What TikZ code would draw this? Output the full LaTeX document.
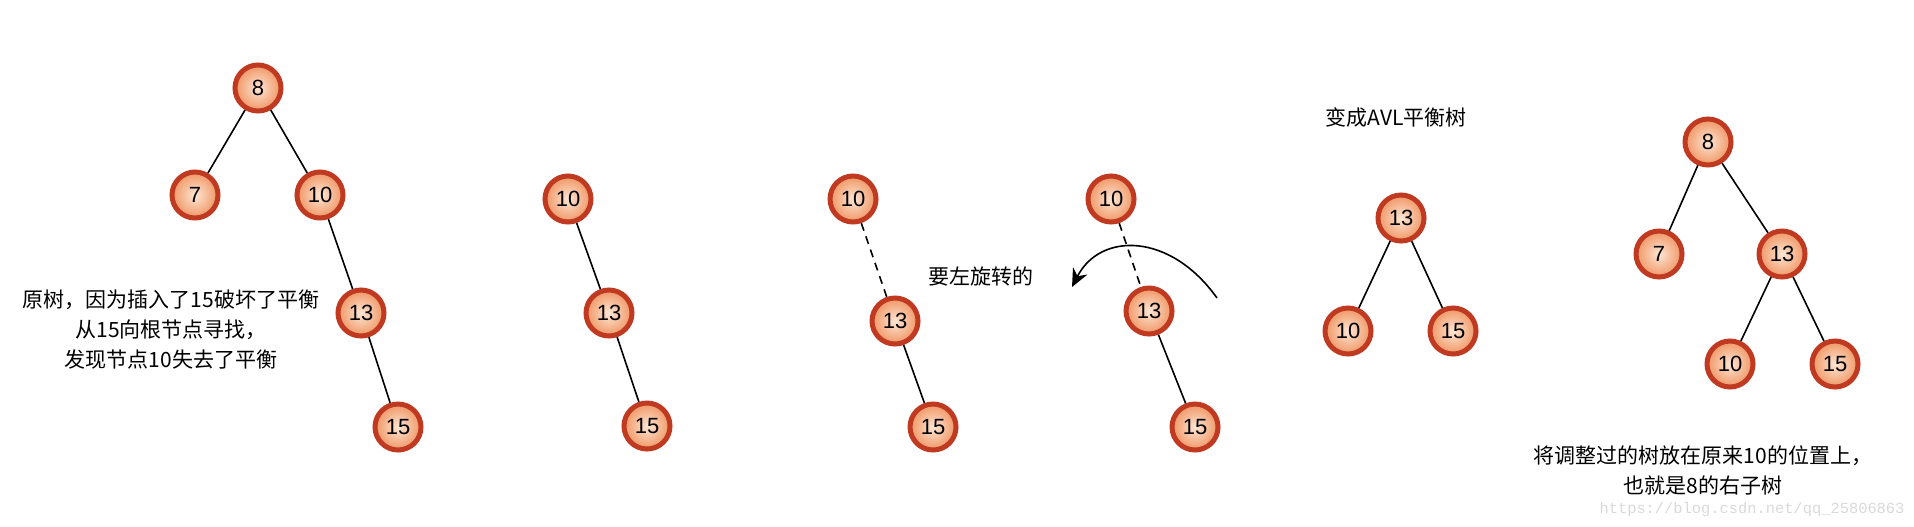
\documentclass[tikz,border=0pt]{standalone}
\usepackage{fontspec}
\setmainfont{Liberation Sans}
\newfontfamily\cjk{Noto Sans CJK SC}
\newfontfamily\marca{Liberation Mono}
\usetikzlibrary{arrows.meta, shadows}
\definecolor{bordavl}{RGB}{192,58,34}
\definecolor{miolo}{RGB}{253,230,212}
\definecolor{casca}{RGB}{240,150,100}
\tikzset{
    bola/.style={circle, draw=bordavl, line width=2.5pt, inner color=miolo, outer color=casca,
        minimum size=23pt, inner sep=0pt, font=\fontsize{11pt}{12pt}\selectfont,
        drop shadow={opacity=0.25, shadow xshift=0.6pt, shadow yshift=-0.6pt}},
    elo/.style={draw=black, line width=0.8pt},
    tracejado/.style={elo, dash pattern=on 4pt off 3pt},
    legenda/.style={font=\cjk\fontsize{10.5pt}{15pt}\selectfont, align=center}
}
\begin{document}
\begin{tikzpicture}[x=0.5pt, y=-0.5pt]
    \useasboundingbox (0,0) rectangle (1914,526);
    % Arvore original
    \node[bola] (a8) at (258,88) {8};
    \node[bola] (a7) at (195,195) {7};
    \node[bola] (a10) at (320,195) {10};
    \node[bola] (a13) at (361,313) {13};
    \node[bola] (a15) at (398,427) {15};
    \draw[elo] (a8) -- (a7);
    \draw[elo] (a8) -- (a10);
    \draw[elo] (a10) -- (a13);
    \draw[elo] (a13) -- (a15);
    \node[legenda] (txtorig) at (171,330) {原树，因为插入了15破坏了平衡\\从15向根节点寻找，\\发现节点10失去了平衡};
    % Subarvore desequilibrada
    \node[bola] (b10) at (568,199) {10};
    \node[bola] (b13) at (609,313) {13};
    \node[bola] (b15) at (647,426) {15};
    \draw[elo] (b10) -- (b13);
    \draw[elo] (b13) -- (b15);
    % Rotacao
    \node[bola] (c10) at (853,199) {10};
    \node[bola] (c13) at (895,321) {13};
    \node[bola] (c15) at (933,427) {15};
    \draw[tracejado] (c10) -- (c13);
    \draw[elo] (c13) -- (c15);
    \node[legenda] (txtrot) at (981,276) {要左旋转的};
    \node[bola] (d10) at (1111,199) {10};
    \node[bola] (d13) at (1149,311) {13};
    \node[bola] (d15) at (1195,427) {15};
    \draw[tracejado] (d10) -- (d13);
    \draw[elo] (d13) -- (d15);
    \coordinate (arcoini) at (1217,298);
    \coordinate (arcofim) at (1072,287);
    \draw[elo, -{Stealth[length=9pt, width=8pt]}] (arcoini) .. controls (1170,232) and (1100,232) .. (arcofim);
    % Arvore AVL
    \node[legenda] (txtavl) at (1396,117) {变成AVL平衡树};
    \node[bola] (e13) at (1401,218) {13};
    \node[bola] (e10) at (1348,331) {10};
    \node[bola] (e15) at (1453,331) {15};
    \draw[elo] (e13) -- (e10);
    \draw[elo] (e13) -- (e15);
    % Arvore final
    \node[bola] (f8) at (1708,142) {8};
    \node[bola] (f7) at (1659,254) {7};
    \node[bola] (f13) at (1782,254) {13};
    \node[bola] (f10) at (1730,364) {10};
    \node[bola] (f15) at (1835,364) {15};
    \draw[elo] (f8) -- (f7);
    \draw[elo] (f8) -- (f13);
    \draw[elo] (f13) -- (f10);
    \draw[elo] (f13) -- (f15);
    \node[legenda] (txtfim) at (1703,470) {将调整过的树放在原来10的位置上，\\也就是8的右子树};
    \node[font=\marca\fontsize{7.7pt}{9pt}\selectfont, text=black!15] (marca) at (1752,510) {https://blog.csdn.net/qq\_25806863};
\end{tikzpicture}
\end{document}
